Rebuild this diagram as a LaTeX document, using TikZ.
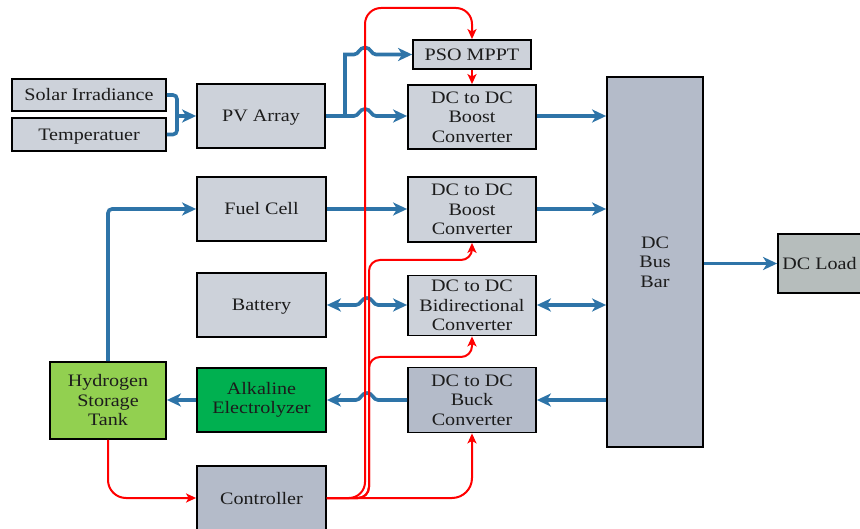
\documentclass[tikz,border=0pt]{standalone}
\usepackage{fontspec}
\setmainfont{Liberation Serif}[FakeStretch=1.15]
\usetikzlibrary{arrows.meta}

\definecolor{boxlight}{HTML}{CDD2DA}
\definecolor{boxdark}{HTML}{B4BBC9}
\definecolor{boxload}{HTML}{B6BDBC}
\definecolor{tankgreen}{HTML}{92D050}
\definecolor{alkgreen}{HTML}{00B050}
\definecolor{flowblue}{HTML}{2E74A8}
\definecolor{sigred}{HTML}{FF0000}
\definecolor{inktext}{HTML}{1C1C1C}

% a small bump of a horizontal line where it jumps over a crossing line at x=#1
\newcommand{\hopat}[2]{-- (#1-11,#2) .. controls (#1-6,#2) and (#1-6,#2-7) .. (#1,#2-7) .. controls (#1+6,#2-7) and (#1+6,#2) .. (#1+11,#2)}

\begin{document}
\begin{tikzpicture}[x=1pt,y=-1pt,
  blk/.style={draw=black,line width=1.8pt,inner sep=0pt,align=center,
    text=inktext,font=\fontsize{17.5}{19.5}\selectfont},
  oneline/.style={text height=14pt,text depth=2pt},
  light/.style={blk,fill=boxlight},
  dark/.style={blk,fill=boxdark},
  bluetip/.tip={Stealth[length=14pt,width=13pt,inset=4pt]},
  flowline/.style={draw=flowblue,line width=3.6pt},
  flow/.style={flowline,-bluetip},
  flowback/.style={flowline,bluetip-},
  flowboth/.style={flowline,bluetip-bluetip},
  sig/.style={draw=sigred,line width=2pt,-{Stealth[length=10pt,width=9pt,inset=2.5pt]}}]

\useasboundingbox[fill=white] (0,0) rectangle (860,529);

% blocks
\node[light,oneline,minimum width=154pt,minimum height=32pt] (solar) at (89,95) {Solar Irradiance};
\node[light,oneline,minimum width=154pt,minimum height=33pt] (temp) at (89,134.5) {Temperatuer};
\node[light,oneline,minimum width=128pt,minimum height=64pt] (pv) at (261,116) {PV Array};
\node[light,oneline,minimum width=118pt,minimum height=29pt] (pso) at (472,54.5) {PSO MPPT};
\node[light,minimum width=128pt,minimum height=64pt] (boostA) at (472,117) {DC to DC\\Boost\\Converter};
\node[light,oneline,minimum width=129pt,minimum height=64pt] (fuel) at (261.5,209) {Fuel Cell};
\node[light,minimum width=128pt,minimum height=65pt] (boostB) at (472,209.5) {DC to DC\\Boost\\Converter};
\node[light,oneline,minimum width=129pt,minimum height=64pt] (batt) at (261.5,305) {Battery};
\node[light,minimum width=128pt,minimum height=60pt] (bidir) at (472,305.5) {DC to DC\\Bidirectional\\Converter};
\node[blk,fill=tankgreen,minimum width=116pt,minimum height=77pt] (tank) at (108,400.5) {Hydrogen\\Storage\\Tank};
\node[blk,fill=alkgreen,minimum width=129pt,minimum height=64pt] (alk) at (261.5,400) {Alkaline\\Electrolyzer};
\node[dark,minimum width=128pt,minimum height=65pt] (buck) at (472,400) {DC to DC\\Buck\\Converter};
\node[dark,oneline,minimum width=129pt,minimum height=64pt] (ctrl) at (261.5,498) {Controller};
\node[dark,minimum width=96pt,minimum height=370pt] (bus) at (655,262) {DC\\Bus\\Bar};
\node[blk,oneline,fill=boxload,minimum width=83pt,minimum height=59pt] (load) at (819.5,263.5) {DC Load};

% power flow (blue)
\coordinate (join) at (177,116);
\coordinate (split) at (345,116);
\draw[flowline,rounded corners=4pt] (solar.east) -| (join);
\draw[flowline,rounded corners=4pt] (temp.east) -| (join);
\draw[flow] (join) -- (pv.west);
\draw[flowline] (pv.east) -- (split);
\draw[flow] (split) -- (split |- pso.west) \hopat{365}{54.5} -- (pso.west);
\draw[flow] (split) \hopat{365}{116} -- (split -| boostA.west);
\draw[flow] (boostA.east |- split) -- (split -| bus.west);
\draw[flow] (fuel.east) -- (fuel.east -| boostB.west);
\draw[flow] (boostB.east |- fuel.east) -- (fuel.east -| bus.west);
\draw[flowboth] (batt.east) \hopat{367}{305} -- (batt.east -| bidir.west);
\draw[flowboth] (bidir.east |- batt.east) -- (batt.east -| bus.west);
\draw[flow] (buck.east -| bus.west) -- (buck.east);
\draw[flowback] (alk.east) \hopat{367}{400} -- (buck.west);
\draw[flow] (alk.west) -- (alk.west -| tank.east);
\draw[flow,rounded corners=4pt] (tank.north) |- (fuel.west);
\draw[flow] (bus.east |- load.west) -- (load.west);

% control signals (red)
\draw[sig,rounded corners=16pt] (ctrl.east) -- (365,498) -- (365,8) -- (472,8) -- (pso.north);
\draw[sig] (pso.south) -- (boostA.north);
\draw[sig,rounded corners=11pt] (ctrl.east) -- (369,498) -- (369,260) -- (472,260) -- (boostB.south);
\draw[sig,rounded corners=11pt] (ctrl.east) -- (369,498) -- (369,357) -- (472,357) -- (bidir.south);
\draw[sig,rounded corners=20pt] (ctrl.east) -- (472,498) -- (buck.south);
\draw[sig,rounded corners=18pt] (tank.south) -- (108,498) -- (ctrl.west);

\end{tikzpicture}
\end{document}
